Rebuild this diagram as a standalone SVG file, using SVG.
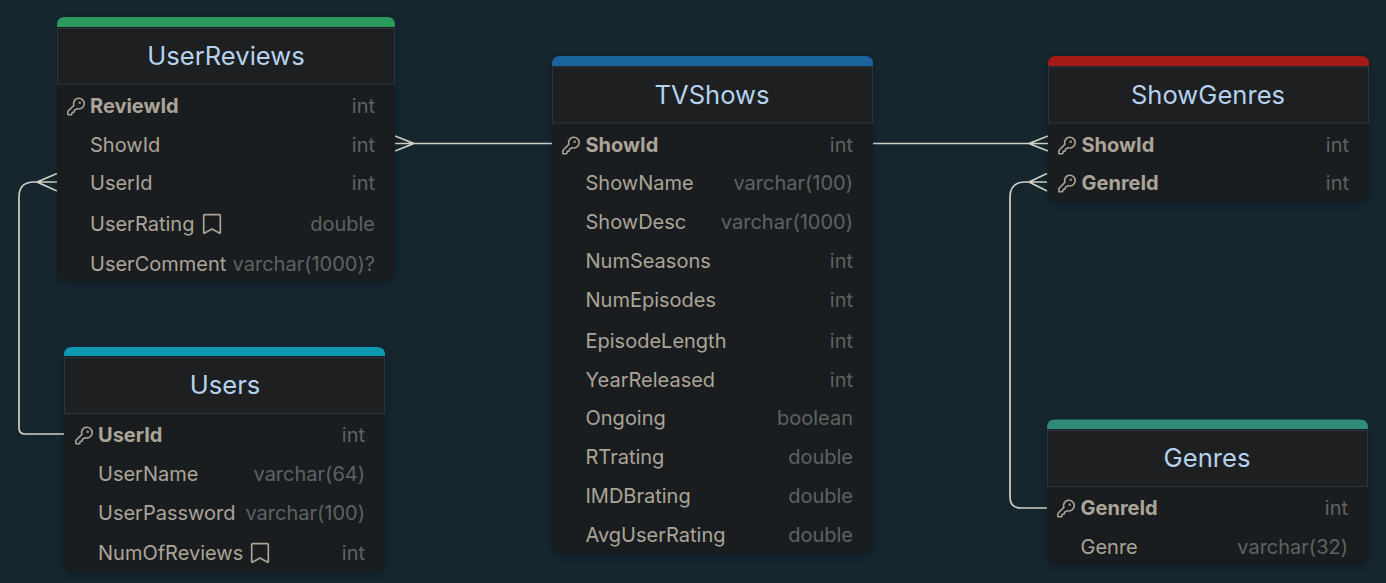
<svg xmlns="http://www.w3.org/2000/svg" width="1386" height="583" viewBox="0 0 1386 583">
<style>
text{font-family:Inter,"Noto Sans","Liberation Sans",sans-serif}
.body{fill:#1a1d1f;filter:url(#sh)}
.head{fill:#1e1f21;stroke:#2b3640;stroke-width:1}
.title{font-size:25.600px;fill:#b5d2ee;text-anchor:middle}
.f{font-size:20px;fill:#aca498}
.k{font-size:20px;fill:#aca498;font-weight:700}
.t{font-size:20px;fill:#5f6264;text-anchor:end}
.conn{fill:none;stroke:#d3cfc5;stroke-width:1.7}
.ic{fill:none;stroke:#aca498;stroke-width:1.700;stroke-linejoin:round;stroke-linecap:round}
</style>
<defs>
<filter id="sh" x="-10%" y="-10%" width="120%" height="120%" color-interpolation-filters="sRGB"><feDropShadow dx="0" dy="2" stdDeviation="3" flood-color="#000" flood-opacity=".22"/></filter>
<g id="key" class="ic"><g transform="scale(.82) translate(-12 -12)"><path stroke-width="1.900" d="M2.586 17.414A2 2 0 0 0 2 18.828V21a1 1 0 0 0 1 1h3a1 1 0 0 0 1-1v-1a1 1 0 0 1 1-1h1a1 1 0 0 0 1-1v-1a1 1 0 0 1 1-1h.172a2 2 0 0 0 1.414-.586l.814-.814a6.500 6.500 0 1 0-4-4z"/><circle stroke-width="1.900" cx="16.500" cy="7.500" r=".5"/></g></g>
<path id="bm" class="ic" d="M-7.200 -9.300H7.200Q8.300 -9.300 8.300 -8.200V8.500Q8.300 9.500 7.300 9L0 5L-7.300 9Q-8.300 9.500 -8.300 8.500V-8.200Q-8.300 -9.300 -7.200 -9.300Z"/>
</defs>
<rect width="1386" height="583" fill="#15262f"/>
<g id="connectors">
<path class="conn" d="M395 143.500H552M395 136L414 143.500L395 151"/>
<path class="conn" d="M873 143.500H1048M1048 136L1029 143.500L1048 151"/>
<path class="conn" d="M57 182H34Q19 182 19 197V428Q19 434 25 434H64M57 173.500L37 182L57 191"/>
<path class="conn" d="M1047 182H1025Q1010 182 1010 197V497Q1010 508 1021 508H1047M1047 173.500L1029 182L1047 191"/>
</g>
<g id="UserReviews">
<rect class="body" x="57" y="17" width="338" height="264" rx="10"/>
<path d="M57 27V25Q57 17 65 17H387Q395 17 395 25V27Z" fill="#2c9a5c"/>
<rect class="head" x="57.500" y="28.500" width="337" height="55.500"/>
<text class="title" x="226" y="65.400">UserReviews</text>
<use href="#key" x="76" y="106.500"/>
<text class="k" x="90" y="113">ReviewId</text><text class="t" x="375" y="113">int</text>
<text class="f" x="90" y="152">ShowId</text><text class="t" x="375" y="152">int</text>
<text class="f" x="90" y="190">UserId</text><text class="t" x="375" y="190">int</text>
<text class="f" x="90" y="231">UserRating</text><use href="#bm" x="212" y="224"/><text class="t" x="375" y="231">double</text>
<text class="f" x="90" y="271">UserComment</text><text class="t" x="375" y="271">varchar(1000)?</text>
</g>
<g id="Users">
<rect class="body" x="64" y="347" width="321" height="225" rx="10"/>
<path d="M64 356V355Q64 347 72 347H377Q385 347 385 355V356Z" fill="#0f99b1"/>
<rect class="head" x="64.500" y="357.500" width="320" height="56"/>
<text class="title" x="225" y="394.400">Users</text>
<use href="#key" x="84" y="435.500"/>
<text class="k" x="98" y="442">UserId</text><text class="t" x="365" y="442">int</text>
<text class="f" x="98" y="481">UserName</text><text class="t" x="365" y="481">varchar(64)</text>
<text class="f" x="98" y="520">UserPassword</text><text class="t" x="365" y="520">varchar(100)</text>
<text class="f" x="98" y="560">NumOfReviews</text><use href="#bm" x="260" y="553"/><text class="t" x="365" y="560">int</text>
</g>
<g id="TVShows">
<rect class="body" x="552" y="56" width="321" height="498" rx="10"/>
<path d="M552 66V64Q552 56 560 56H865Q873 56 873 64V66Z" fill="#1b659f"/>
<rect class="head" x="552.500" y="67" width="320" height="56"/>
<text class="title" x="712" y="104.400">TVShows</text>
<use href="#key" x="571" y="145.500"/>
<text class="k" x="585.500" y="152">ShowId</text><text class="t" x="853" y="152">int</text>
<text class="f" x="585.500" y="190">ShowName</text><text class="t" x="853" y="190">varchar(100)</text>
<text class="f" x="585.500" y="229">ShowDesc</text><text class="t" x="853" y="229">varchar(1000)</text>
<text class="f" x="585.500" y="268">NumSeasons</text><text class="t" x="853" y="268">int</text>
<text class="f" x="585.500" y="307">NumEpisodes</text><text class="t" x="853" y="307">int</text>
<text class="f" x="585.500" y="348">EpisodeLength</text><text class="t" x="853" y="348">int</text>
<text class="f" x="585.500" y="387">YearReleased</text><text class="t" x="853" y="387">int</text>
<text class="f" x="585.500" y="425">Ongoing</text><text class="t" x="853" y="425">boolean</text>
<text class="f" x="585.500" y="464">RTrating</text><text class="t" x="853" y="464">double</text>
<text class="f" x="585.500" y="503">IMDBrating</text><text class="t" x="853" y="503">double</text>
<text class="f" x="585.500" y="542">AvgUserRating</text><text class="t" x="853" y="542">double</text>
</g>
<g id="ShowGenres">
<rect class="body" x="1048" y="56" width="321" height="146" rx="10"/>
<path d="M1048 66V64Q1048 56 1056 56H1361Q1369 56 1369 64V66Z" fill="#a31a17"/>
<rect class="head" x="1048.500" y="67" width="320" height="56"/>
<text class="title" x="1208" y="104.400">ShowGenres</text>
<use href="#key" x="1067" y="145.500"/>
<text class="k" x="1081.500" y="152">ShowId</text><text class="t" x="1349" y="152">int</text>
<use href="#key" x="1067" y="183.500"/>
<text class="k" x="1081.500" y="190">GenreId</text><text class="t" x="1349" y="190">int</text>
</g>
<g id="Genres">
<rect class="body" x="1047" y="419.500" width="321" height="145.500" rx="10"/>
<path d="M1047 429V427.500Q1047 419.500 1055 419.500H1360Q1368 419.500 1368 427.500V429Z" fill="#2e8c79"/>
<rect class="head" x="1047.500" y="430.500" width="320" height="56"/>
<text class="title" x="1207" y="467.400">Genres</text>
<use href="#key" x="1066" y="508.500"/>
<text class="k" x="1080.500" y="515">GenreId</text><text class="t" x="1348" y="515">int</text>
<text class="f" x="1080.500" y="554">Genre</text><text class="t" x="1348" y="554">varchar(32)</text>
</g>
</svg>
